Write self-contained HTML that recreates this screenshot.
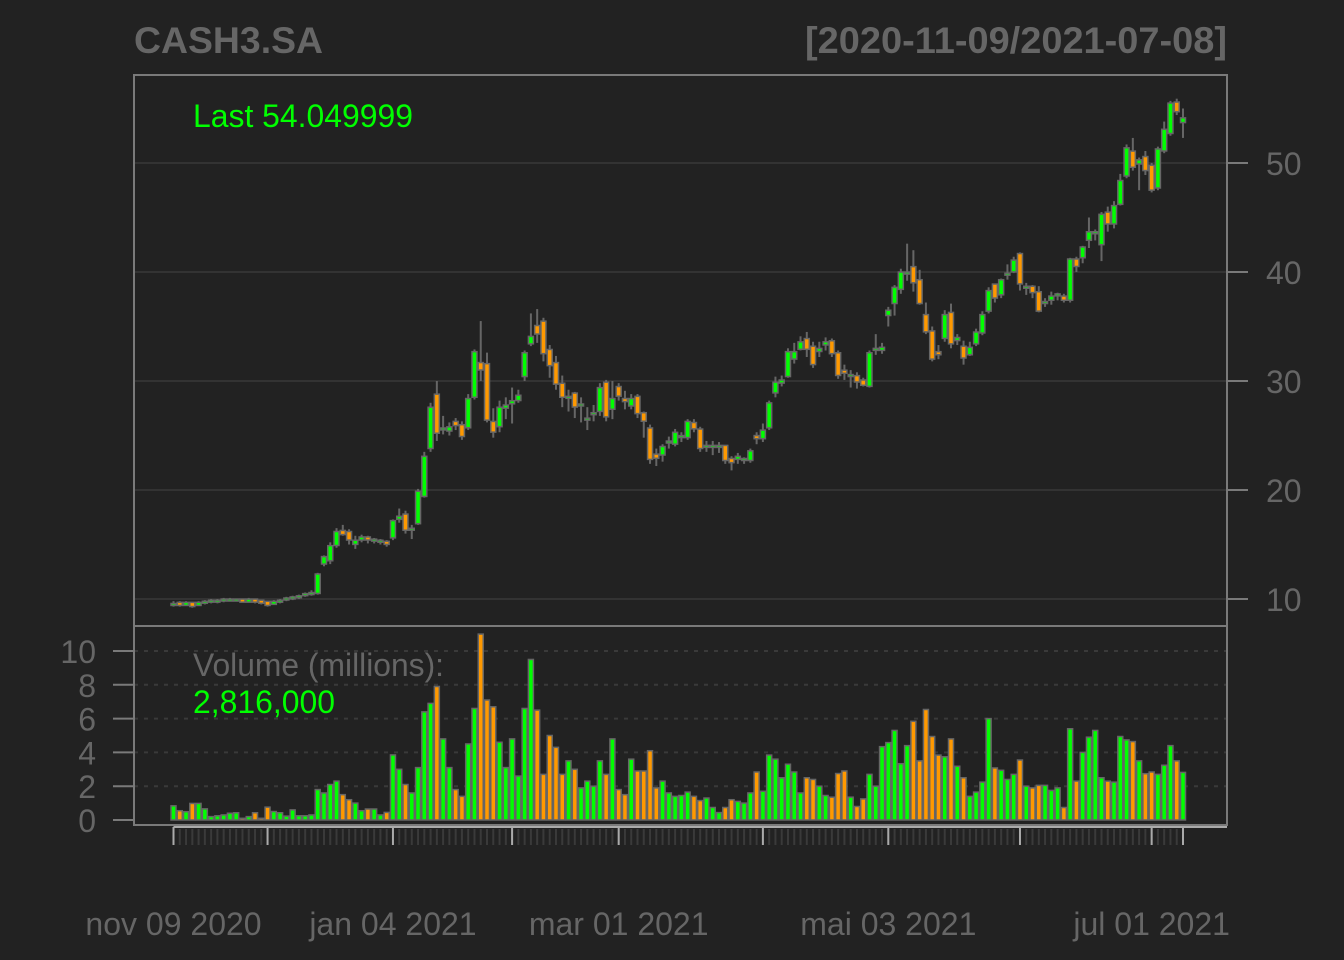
<!DOCTYPE html>
<html><head><meta charset="utf-8">
<style>
html,body{margin:0;padding:0;background:#222222;}
svg{display:block;}
text{font-family:"Liberation Sans",sans-serif;}
</style></head>
<body>
<svg id="chart" width="1344" height="960" xmlns="http://www.w3.org/2000/svg">
<rect x="0" y="0" width="1344" height="960" fill="#222222"/>
<text x="134" y="53" font-size="37.5" font-weight="bold" fill="#666666" textLength="189" lengthAdjust="spacingAndGlyphs">CASH3.SA</text>
<text x="805" y="53" font-size="37.5" font-weight="bold" fill="#666666" textLength="422" lengthAdjust="spacingAndGlyphs">[2020-11-09/2021-07-08]</text>
<g id="grid"></g>
<g id="marks"></g>
<rect x="134" y="75" width="1093" height="551" fill="none" stroke="#7a7a7a" stroke-width="2"/>
<rect x="134" y="626" width="1093" height="199" fill="none" stroke="#7a7a7a" stroke-width="2"/>
<text x="193" y="127" font-size="32" fill="#00ff00" textLength="220" lengthAdjust="spacingAndGlyphs">Last 54.049999</text>
<text x="193" y="676" font-size="32" fill="#666666" textLength="251" lengthAdjust="spacingAndGlyphs">Volume (millions):</text>
<text x="193" y="713" font-size="32" fill="#00ff00" textLength="142" lengthAdjust="spacingAndGlyphs">2,816,000</text>
<g id="axes"></g>
</svg>
<script>
const O = [
9.5,9.6,9.5,9.6,9.5,9.7,9.8,9.8,9.9,9.9,
9.9,9.9,9.8,9.9,9.8,9.7,9.6,9.8,10.0,10.1,
10.2,10.4,10.5,10.6,13.3,13.6,15.0,16.2,16.1,15.1,
15.5,15.6,15.4,15.3,15.2,15.7,17.4,17.7,16.4,17.0,
19.5,23.9,28.7,25.6,25.5,26.2,25.9,25.8,28.6,31.6,
31.5,26.2,25.9,27.6,28.0,28.3,30.5,33.5,35.0,35.4,
32.8,31.6,29.7,28.5,28.8,27.8,26.5,27.0,27.3,29.8,
27.5,29.4,28.3,27.8,28.5,27.0,25.6,23.2,23.3,24.4,
24.3,24.9,24.9,26.1,25.5,24.0,24.0,24.0,24.0,22.8,
22.9,22.8,22.8,24.9,24.8,25.8,29.0,29.9,30.5,32.1,
33.0,33.8,33.1,32.8,33.4,33.6,32.5,30.9,30.5,30.4,
30.0,29.6,32.9,32.9,36.1,37.2,38.5,39.9,40.4,39.2,
36.0,34.5,32.6,34.0,36.2,33.8,33.1,32.5,33.5,34.5,
36.5,38.8,38.0,39.8,40.1,41.6,38.6,38.6,38.1,37.2,
37.5,37.9,37.7,37.5,41.1,41.4,43.0,43.6,42.6,45.4,
44.5,46.3,48.9,51.0,50.0,50.5,49.7,47.8,51.2,52.8,
55.5,53.8];
const H = [
9.8,9.8,9.8,9.7,9.8,9.9,10.0,10.0,10.1,10.1,
10.0,10.0,10.1,10.0,9.9,9.8,9.9,10.0,10.2,10.3,
10.4,10.6,10.8,12.4,14.0,15.2,16.5,16.8,16.4,15.8,
15.9,15.8,15.6,15.5,15.4,17.3,18.3,18.1,16.8,20.1,
23.5,28.0,30.0,26.8,26.2,26.6,26.3,28.8,32.9,35.5,
32.6,27.5,28.2,28.5,29.4,29.2,32.8,36.2,36.6,35.8,
33.3,32.3,30.5,29.2,29.0,28.5,27.6,27.8,29.8,30.1,
30.0,29.8,29.1,28.8,28.8,27.2,26.0,23.8,24.2,24.9,
25.6,25.3,26.5,26.5,25.8,24.5,24.5,24.4,24.1,23.1,
23.4,23.0,23.8,25.3,26.1,28.2,30.4,30.5,33.0,33.5,
34.1,34.5,33.6,33.6,34.0,33.9,32.8,31.5,31.0,30.8,
30.3,32.8,34.3,33.5,36.8,38.8,40.3,42.6,42.0,40.2,
37.2,35.0,33.3,36.5,37.1,34.3,33.7,33.6,34.8,36.4,
38.6,38.9,39.4,40.7,41.4,41.8,39.0,38.8,38.7,37.6,
38.2,38.1,38.0,41.3,41.4,42.4,45.0,43.9,45.5,46.0,
46.5,49.0,51.7,52.3,50.5,51.1,50.0,51.5,53.8,55.7,
55.9,55.0];
const L = [
9.3,9.3,9.4,9.2,9.4,9.5,9.6,9.6,9.7,9.8,
9.8,9.7,9.7,9.6,9.5,9.3,9.5,9.6,9.8,9.9,
10.0,10.2,10.3,10.4,13.0,13.2,14.7,15.8,15.0,14.6,
15.2,15.1,15.1,15.0,14.8,15.4,17.0,16.0,15.5,16.8,
19.3,23.5,24.5,25.1,25.0,25.5,24.6,25.5,28.3,30.0,
26.2,24.8,25.3,26.5,26.1,28.0,30.0,33.2,33.5,31.8,
30.3,29.2,27.6,27.2,26.6,26.2,25.5,26.3,26.8,26.3,
26.5,28.2,27.4,27.4,26.6,24.8,22.4,22.2,22.6,23.8,
24.0,24.4,24.6,25.3,23.5,23.5,23.2,23.4,22.4,21.8,
22.4,22.4,22.5,24.2,24.4,25.5,28.5,29.5,30.3,31.6,
32.8,32.2,31.2,32.2,32.8,32.2,30.2,30.1,29.4,29.3,
29.5,29.4,32.4,32.5,35.0,36.0,38.0,39.2,38.2,37.0,
34.3,31.8,32.0,33.6,33.0,33.3,31.5,32.3,33.2,34.2,
36.2,37.2,37.6,39.3,39.9,38.3,37.9,37.6,36.3,36.8,
37.0,37.4,37.2,37.2,40.0,40.8,42.2,42.9,41.0,43.7,
44.0,46.1,48.6,49.3,47.5,48.9,47.3,47.5,50.9,52.5,
54.4,52.3];
const C = [
9.5,9.5,9.6,9.4,9.6,9.7,9.8,9.8,9.9,9.9,
9.9,9.8,9.9,9.8,9.7,9.5,9.7,9.8,10.0,10.1,
10.2,10.4,10.5,12.2,13.8,14.8,16.1,16.0,15.5,15.3,
15.6,15.5,15.4,15.3,15.1,17.1,17.5,16.4,16.4,19.8,
23.0,27.5,25.3,25.6,25.7,26.0,25.0,28.3,32.6,31.1,
26.5,25.4,27.5,27.7,28.1,28.6,32.5,34.0,34.4,32.6,
31.5,29.8,28.6,28.5,27.7,27.8,26.5,27.0,29.3,26.8,
28.3,28.7,28.2,28.3,27.1,26.4,22.9,23.0,23.9,24.4,
25.2,24.9,26.2,25.7,23.9,24.0,24.0,24.0,22.8,22.6,
23.0,22.8,23.5,24.8,25.4,27.9,29.8,30.0,32.6,32.6,
33.5,33.0,31.6,32.9,33.5,32.6,30.6,30.8,30.5,30.0,
29.7,32.5,32.9,33.0,36.4,38.5,39.9,39.9,39.1,37.2,
34.6,32.1,32.5,36.0,33.5,33.9,32.2,33.0,34.4,36.0,
38.2,37.7,39.2,39.8,41.0,39.0,38.6,38.2,36.5,37.2,
37.7,37.9,37.5,41.1,40.6,42.2,43.6,43.6,45.2,44.5,
46.0,48.3,51.3,49.7,50.2,49.4,47.6,51.2,53.0,55.4,
54.8,54.05];
const VOL = [
0.84,0.55,0.49,0.98,0.98,0.66,0.2,0.25,0.3,0.4,
0.43,0.1,0.2,0.43,0.1,0.76,0.5,0.43,0.23,0.6,
0.25,0.25,0.3,1.8,1.6,2.1,2.3,1.5,1.2,1.0,
0.55,0.65,0.65,0.3,0.45,3.85,3.0,2.1,1.6,3.1,
6.4,6.9,7.9,4.8,3.1,1.8,1.4,4.5,6.6,11.0,
7.1,6.7,4.6,3.1,4.8,2.6,6.6,9.5,6.5,2.7,
5.0,4.3,2.7,3.5,3.0,1.9,2.3,2.0,3.5,2.7,
4.8,1.8,1.5,3.6,2.9,2.9,4.1,1.9,2.3,1.6,
1.4,1.45,1.65,1.4,1.15,1.3,0.74,0.44,0.74,1.2,
1.1,1.0,1.6,2.84,1.7,3.84,3.6,2.5,3.3,2.84,
1.6,2.5,2.4,2.0,1.45,1.35,2.75,2.9,1.35,0.8,
1.25,2.7,2.0,4.34,4.58,5.3,3.33,4.4,5.84,3.5,
6.54,4.94,3.84,3.74,4.8,3.18,2.5,1.4,1.65,2.24,
6.0,3.08,2.94,2.4,2.7,3.55,2.0,1.9,2.05,2.05,
1.75,1.9,0.74,5.4,2.3,4.0,4.9,5.3,2.5,2.3,
2.24,4.94,4.74,4.64,3.5,2.74,2.84,2.7,3.24,4.4,
3.5,2.816];
const priceTicks = [10,20,30,40,50];
const volTicks = [0,2,4,6,8,10];
const majorTickIdx = [0,15,35,54,71,94,114,135,156,161];
const dateLabels = ["nov 09 2020","jan 04 2021","mar 01 2021","mai 03 2021","jul 01 2021"];
const dateLabelIdx = [0,35,71,114,156];

const NS = "http://www.w3.org/2000/svg";
const X0 = 173.5, X1 = 1183;
const xs = i => X0 + i * (X1 - X0) / (C.length - 1);
const yp = p => 599 - (p - 10) * 10.9;
const yv = v => 820 - v * 16.9;
function mk(tag, attrs, parent) {
  const e = document.createElementNS(NS, tag);
  for (const k in attrs) e.setAttribute(k, attrs[k]);
  parent.appendChild(e);
  return e;
}
const grid = document.getElementById('grid');
const marks = document.getElementById('marks');
const axes = document.getElementById('axes');

priceTicks.forEach(t => {
  const l = mk('line', {x1:134, x2:1227, y1:yp(t), y2:yp(t), stroke:'#333333', 'stroke-width':2}, grid);
  
  
  const tx = mk('text', {x:1266, y:yp(t)+12, 'font-size':32, fill:'#666666'}, axes);
  tx.textContent = t;
  
  
  const tk = mk('line', {x1:1227, x2:1248, y1:yp(t), y2:yp(t), stroke:'#7a7a7a', 'stroke-width':2}, axes);
  
  
});
volTicks.forEach(t => {
  if (t > 0) {
    const l = mk('line', {x1:134, x2:1227, y1:yv(t), y2:yv(t), stroke:'#3a3a3a', 'stroke-width':2, 'stroke-dasharray':'4 6'}, grid);
    
    
  }
  const tx = mk('text', {x:96, y:yv(t)+12, 'font-size':32, fill:'#666666', 'text-anchor':'end'}, axes);
  tx.textContent = t;
  
  
  const tk = mk('line', {x1:113, x2:134, y1:yv(t), y2:yv(t), stroke:'#7a7a7a', 'stroke-width':2}, axes);
  
  
});

for (let i = 0; i < C.length; i++) {
  const x = xs(i);
  const up = C[i] >= O[i];
  const col = up ? '#00ff00' : '#ff9900';
  const w = mk('line', {x1:x, x2:x, y1:yp(H[i]), y2:yp(L[i]), stroke:'#666666', 'stroke-width':2}, marks);
  
  
  const top = yp(Math.max(O[i], C[i])), bot = yp(Math.min(O[i], C[i]));
  const b = mk('rect', {x:x-2.5, y:top-1, width:5, height:Math.max(bot-top, 0)+2, fill:col, stroke:'#666666', 'stroke-width':1.5}, marks);
  
  
  const v = mk('rect', {x:x-2.5, y:yv(VOL[i]), width:5, height:820-yv(VOL[i]), fill:col, stroke:'#666666', 'stroke-width':1.5}, marks);
  
  
  const mt = mk('line', {x1:x, x2:x, y1:829, y2:845, stroke:'#3a3a3a', 'stroke-width':2}, axes);
  
  
}
const ax = mk('line', {x1:X0, x2:1227, y1:827, y2:827, stroke:'#aaaaaa', 'stroke-width':2}, axes);


majorTickIdx.forEach(i => {
  const t = mk('line', {x1:xs(i), x2:xs(i), y1:827, y2:845, stroke:'#aaaaaa', 'stroke-width':2}, axes);
  
  
});
dateLabels.forEach((s, k) => {
  const t = mk('text', {x:xs(dateLabelIdx[k]), y:935, 'font-size':32, fill:'#666666', 'text-anchor':'middle'}, axes);
  t.textContent = s;
  
  
});
</script>
</body></html>
